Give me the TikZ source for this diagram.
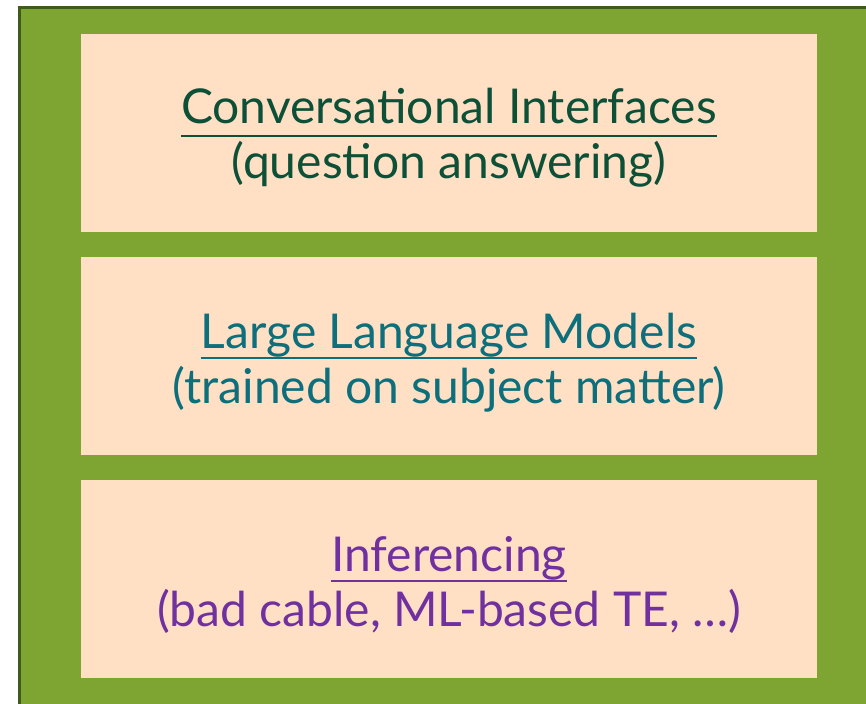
\documentclass[tikz,border=0pt]{standalone}
\usepackage{fontspec}
\setmainfont{Lato}
\definecolor{outergreen}{HTML}{7EA532}
\definecolor{outerborder}{HTML}{3E5A1C}
\definecolor{peach}{HTML}{FFE0C4}
\definecolor{darkgreen}{HTML}{0C5038}
\definecolor{tealc}{HTML}{0D6F7C}
\definecolor{purplec}{HTML}{7030A0}
\tikzset{
  panel/.style={fill=peach, draw=none, minimum width=736pt, minimum height=198pt, inner sep=0pt, anchor=center},
  txt/.style={font=\fontsize{48}{56}\selectfont, inner sep=0pt, anchor=base, text depth=0pt},
  uline/.style={line width=2pt}
}
\begin{document}
\begin{tikzpicture}[x=1pt,y=-1pt]
\useasboundingbox (0,0) rectangle (866,703);
\fill[white] (0,0) rectangle (866,703);
\draw[fill=outergreen, draw=outerborder, line width=3pt] (19.5,7.5) rectangle (880,720);
% boxes
\node[panel] (b1) at (449,133) {};
\node[panel] (b2) at (449,356) {};
\node[panel] (b3) at (449,579) {};
% texts
\node[txt, text=darkgreen] (t1) at ([yshift=9pt]b1.center) {Conversational Interfaces};
\node[txt, text=darkgreen] (s1) at ([yshift=-46pt]b1.center) {(question answering)};
\node[txt, text=tealc] (t2) at ([yshift=8pt]b2.center) {Large Language Models};
\node[txt, text=tealc] (s2) at ([yshift=-47pt]b2.center) {(trained on subject matter)};
\node[txt, text=purplec] (t3) at ([yshift=8pt]b3.center) {Inferencing};
\node[txt, text=purplec] (s3) at ([yshift=-47pt]b3.center) {(bad cable, ML-based TE, …)};
% underlines
\draw[uline, darkgreen] ([yshift=-12pt]t1.base west) -- ([yshift=-12pt]t1.base east);
\draw[uline, tealc] ([yshift=-10pt]t2.base west) -- ([yshift=-10pt]t2.base east);
\draw[uline, purplec] ([yshift=-10pt]t3.base west) -- ([yshift=-10pt]t3.base east);
\end{tikzpicture}
\end{document}
